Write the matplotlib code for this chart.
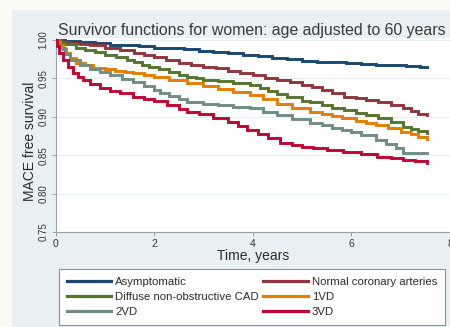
import matplotlib
matplotlib.use("Agg")
import matplotlib.pyplot as plt
from matplotlib.patches import Rectangle

plt.rcParams["font.family"] = ["Liberation Sans", "DejaVu Sans"]

# Kaplan-Meier style survivor curves (age adjusted to 60 years), women
groups = ["Asymptomatic", "Normal coronary arteries", "Diffuse non-obstructive CAD",
          "1VD", "2VD", "3VD"]
colors = ["#1a476f", "#90353b", "#55752f", "#e37e00", "#6e8e84", "#c10534"]

asym_t = [0, 0.2, 0.5, 0.8, 1.1, 1.4, 1.7, 2.0, 2.3, 2.6, 2.9, 3.2, 3.5, 3.8, 4.1,
          4.4, 4.7, 5.0, 5.3, 5.6, 5.9, 6.2, 6.5, 6.8, 7.1, 7.4, 7.53]
asym_s = [1.0, 0.999, 0.997, 0.996, 0.994, 0.993, 0.992, 0.990, 0.989, 0.988, 0.986,
          0.985, 0.983, 0.981, 0.979, 0.977, 0.975, 0.973, 0.972, 0.971, 0.970, 0.969,
          0.968, 0.967, 0.966, 0.965, 0.965]

norm_t = [0, 0.15, 0.3, 0.5, 0.7, 1.0, 1.3, 1.6, 1.8, 2.0, 2.25, 2.5, 2.75, 3.0, 3.25,
          3.5, 3.75, 4.0, 4.25, 4.5, 4.75, 5.0, 5.2, 5.4, 5.6, 5.85, 6.1, 6.3, 6.55,
          6.8, 7.05, 7.2, 7.35, 7.53]
norm_s = [1.0, 0.998, 0.996, 0.995, 0.993, 0.990, 0.987, 0.983, 0.981, 0.978, 0.974,
          0.970, 0.968, 0.965, 0.963, 0.960, 0.957, 0.954, 0.951, 0.948, 0.945, 0.942,
          0.939, 0.935, 0.931, 0.926, 0.924, 0.922, 0.919, 0.915, 0.911, 0.907, 0.904,
          0.902]

diff_t = [0, 0.1, 0.2, 0.42, 0.6, 0.8, 1.0, 1.23, 1.45, 1.6, 1.75, 1.9, 2.1, 2.3,
          2.5, 2.67, 2.85, 3.0, 3.3, 3.6, 3.95, 4.15, 4.3, 4.5, 4.7, 5.0, 5.16, 5.4,
          5.6, 5.85, 6.1, 6.3, 6.55, 6.8, 7.05, 7.2, 7.35, 7.53]
diff_s = [1.0, 0.997, 0.995, 0.989, 0.987, 0.984, 0.981, 0.978, 0.974, 0.971, 0.968,
          0.965, 0.962, 0.958, 0.955, 0.952, 0.950, 0.948, 0.946, 0.944, 0.941, 0.937,
          0.934, 0.930, 0.926, 0.921, 0.919, 0.915, 0.912, 0.909, 0.905, 0.902, 0.898,
          0.893, 0.887, 0.884, 0.881, 0.879]

one_t = [0, 0.05, 0.1, 0.15, 0.22, 0.3, 0.42, 0.6, 0.76, 1.0, 1.2, 1.4, 1.58, 1.8,
         2.0, 2.3, 2.67, 3.0, 3.3, 3.6, 3.95, 4.2, 4.5, 4.8, 5.16, 5.4, 5.6, 5.8, 6.1,
         6.3, 6.5, 6.75, 7.0, 7.2, 7.35, 7.53]
one_s = [1.0, 0.997, 0.993, 0.988, 0.983, 0.977, 0.970, 0.967, 0.964, 0.962, 0.960,
         0.958, 0.957, 0.955, 0.952, 0.948, 0.944, 0.940, 0.936, 0.932, 0.928, 0.923,
         0.917, 0.912, 0.906, 0.903, 0.901, 0.899, 0.895, 0.892, 0.889, 0.885, 0.880,
         0.877, 0.874, 0.871]

two_t = [0, 0.05, 0.1, 0.2, 0.3, 0.5, 0.7, 0.9, 1.1, 1.35, 1.58, 1.8, 2.0, 2.12,
         2.3, 2.5, 2.67, 3.0, 3.3, 3.6, 3.95, 4.2, 4.5, 4.8, 5.16, 5.4, 5.6, 5.8, 6.0,
         6.2, 6.5, 6.7, 6.9, 7.05, 7.53]
two_s = [1.0, 0.995, 0.990, 0.982, 0.974, 0.967, 0.962, 0.958, 0.954, 0.949, 0.945,
         0.940, 0.935, 0.931, 0.927, 0.923, 0.919, 0.917, 0.915, 0.913, 0.911, 0.906,
         0.902, 0.897, 0.892, 0.889, 0.886, 0.883, 0.880, 0.876, 0.870, 0.865, 0.860,
         0.853, 0.853]

three_t = [0, 0.03, 0.08, 0.15, 0.25, 0.36, 0.46, 0.56, 0.7, 0.9, 1.1, 1.3, 1.58,
           1.8, 2.0, 2.26, 2.5, 2.67, 2.9, 3.2, 3.5, 3.7, 3.88, 4.1, 4.3, 4.55, 4.8,
           5.0, 5.23, 5.5, 5.84, 6.2, 6.52, 6.8, 7.05, 7.3, 7.53]
three_s = [1.0, 0.992, 0.983, 0.974, 0.965, 0.957, 0.952, 0.948, 0.943, 0.937, 0.934,
           0.931, 0.926, 0.923, 0.920, 0.915, 0.910, 0.906, 0.903, 0.898, 0.893, 0.888,
           0.883, 0.878, 0.873, 0.866, 0.863, 0.861, 0.859, 0.857, 0.854, 0.851, 0.848,
           0.846, 0.844, 0.842, 0.840]

curves = [(asym_t, asym_s), (norm_t, norm_s), (diff_t, diff_s),
          (one_t, one_s), (two_t, two_s), (three_t, three_s)]

x_ticks = [0, 2, 4, 6, 8]
y_ticks = [0.75, 0.80, 0.85, 0.90, 0.95, 1.00]

W, H = 450, 327
fig = plt.figure(figsize=(W / 100, H / 100), dpi=100, facecolor="#fbfbf6")
fig.patches.append(Rectangle((12 / W, 0), 1 - 12 / W, 1 - 10 / H,
                             transform=fig.transFigure, facecolor="#e9f0f3",
                             edgecolor="none", zorder=0))

ax = fig.add_axes([55.5 / W, 95 / H, (W - 55.5) / W, (232 - 38) / H])
ax.set_zorder(2)
ax.set_facecolor("white")

handles = []
for (t, s), name, c in zip(curves, groups, colors):
    ln, = ax.plot(t, s, drawstyle="steps-post", color=c, lw=2.1,
                  solid_joinstyle="miter", label=name, zorder=3)
    handles.append(ln)

ax.set_xlim(0, 8)
ax.set_ylim(0.75, 1.0026)
ax.set_xticks(x_ticks)
ax.set_yticks(y_ticks)
ax.set_xticklabels([str(v) for v in x_ticks], fontsize=7.5, color="#333333")
ax.set_yticklabels(["%.2f" % v for v in y_ticks], fontsize=7, color="#333333",
                   rotation=90, va="center")
ax.grid(axis="y", color="#e6eef1", lw=0.8, zorder=0)
for side in ("top", "right"):
    ax.spines[side].set_visible(False)
for side in ("left", "bottom"):
    ax.spines[side].set_color("#9aa3a8")
    ax.spines[side].set_linewidth(0.8)
ax.tick_params(axis="both", length=3, width=0.7, color="#9aa3a8", pad=2)

ax.set_xlabel("Time, years", fontsize=10, color="#2a2a2a", labelpad=0)
ax.set_ylabel("MACE free survival", fontsize=10, color="#2a2a2a", labelpad=1)
ax.yaxis.set_label_coords(-0.046, 0.47)
fig.text(58 / W, 1 - 31 / H, "Survivor functions for women: age adjusted to 60 years",
         fontsize=11.4, color="#3a3a3a", va="center", ha="left", zorder=5)

order = [0, 2, 4, 1, 3, 5]
leg = fig.legend([handles[i] for i in order], [groups[i] for i in order],
                 loc="lower left",
                 bbox_to_anchor=(59 / W, 2 / H, (445 - 59) / W, (325 - 269) / H),
                 mode="expand", ncol=2, fontsize=8.2, frameon=True, fancybox=False,
                 framealpha=1, handlelength=3.9, handletextpad=0.35, borderpad=0.7,
                 labelspacing=0.42, columnspacing=1.9, borderaxespad=0)
leg.set_zorder(5)
leg.get_frame().set_edgecolor("#8a9296")
leg.get_frame().set_linewidth(0.8)
leg.get_frame().set_facecolor("white")
for lh in leg.get_lines():
    lh.set_linewidth(2.3)
for tx in leg.get_texts():
    tx.set_color("#2a2a2a")

fig.savefig("out.png", dpi=100, facecolor=fig.get_facecolor())
